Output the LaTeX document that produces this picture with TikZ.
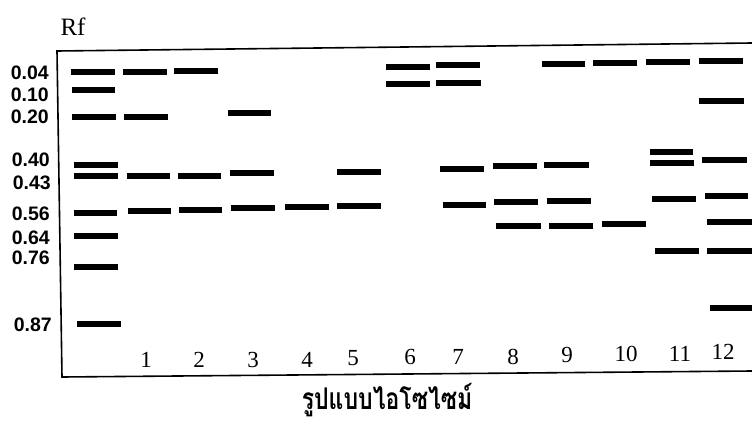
\documentclass[tikz,border=0pt]{standalone}
\usepackage{fontspec}
\setmainfont{Liberation Serif}
\newfontfamily\labfont{Liberation Sans}
\newfontfamily\thaifont[Script=Thai]{Loma}
\begin{document}
\begin{tikzpicture}[x=1pt,y=-1pt,
  band/.style={line width=5.5pt,black},
  frame/.style={line width=1.6pt,black},
  rflab/.style={font=\labfont\bfseries\fontsize{19.5}{19.5}\selectfont,anchor=east,inner sep=0pt},
  lanelab/.style={font=\fontsize{23}{23}\selectfont,inner sep=0pt},
]
\useasboundingbox (0,0) rectangle (752,423);
% frame
\coordinate (tl) at (57,51);
\coordinate (tr) at (752,43);
\coordinate (bl) at (62,377);
\coordinate (br) at (752,371);
\draw[frame] (tr) -- (tl) -- (bl) -- (br);
% title
\node[font=\fontsize{25}{25}\selectfont,inner sep=0pt] (rf) at (73,27) {Rf};
% Rf labels
\node[rflab] (l04) at (49,73) {0.04};
\node[rflab] (l10) at (49,95) {0.10};
\node[rflab] (l20) at (49,117) {0.20};
\node[rflab] (l40) at (50,160) {0.40};
\node[rflab] (l43) at (51,183) {0.43};
\node[rflab] (l56) at (50,214) {0.56};
\node[rflab] (l64) at (50,238) {0.64};
\node[rflab] (l76) at (50,258) {0.76};
\node[rflab] (l87) at (52,325) {0.87};
% bands
\foreach \xa/\xb/\y in {
  71/115/72, 72/115/90, 72/116/117, 74/118/165, 74/118/176, 74/117/213, 74/118/236, 74/118/267, 77/121/324,
  123/167/72, 124/168/117, 127/170/176, 128/171/211,
  174/218/71, 178/221/176, 179/222/210,
  228/271/113, 230/274/173, 231/275/208,
  285/329/207,
  337/381/172, 337/381/206,
  386/430/67, 386/430/84,
  436/480/65, 436/481/83, 440/484/169, 443/486/205,
  493/537/166, 494/538/202, 496/541/226,
  542/585/64, 544/589/165, 547/591/201, 549/593/226,
  593/637/63, 602/646/224,
  646/690/62, 650/693/152, 650/694/163, 652/696/199, 655/699/251,
  699/743/61, 699/744/101, 702/747/160, 705/748/196, 707/752/222, 707/752/251, 710/752/308}
  \draw[band] (\xa,\y) -- (\xb,\y);
% lane numbers
\foreach \n/\x/\y in {1/146/360, 2/199/360, 3/253/360, 4/307/360, 5/353/358, 6/410/357, 7/458/357, 8/513/357, 9/567/355, 10/626/354, 11/680/354, 12/723/352}
  \node[lanelab] (n\n) at (\x,\y) {\n};
% axis title
\node[inner sep=0pt] (xt) at (387,400) {\scalebox{1}[1.3]{\thaifont\bfseries\fontsize{23}{23}\selectfont รูปแบบไอโซไซม์}};
\end{tikzpicture}
\end{document}
